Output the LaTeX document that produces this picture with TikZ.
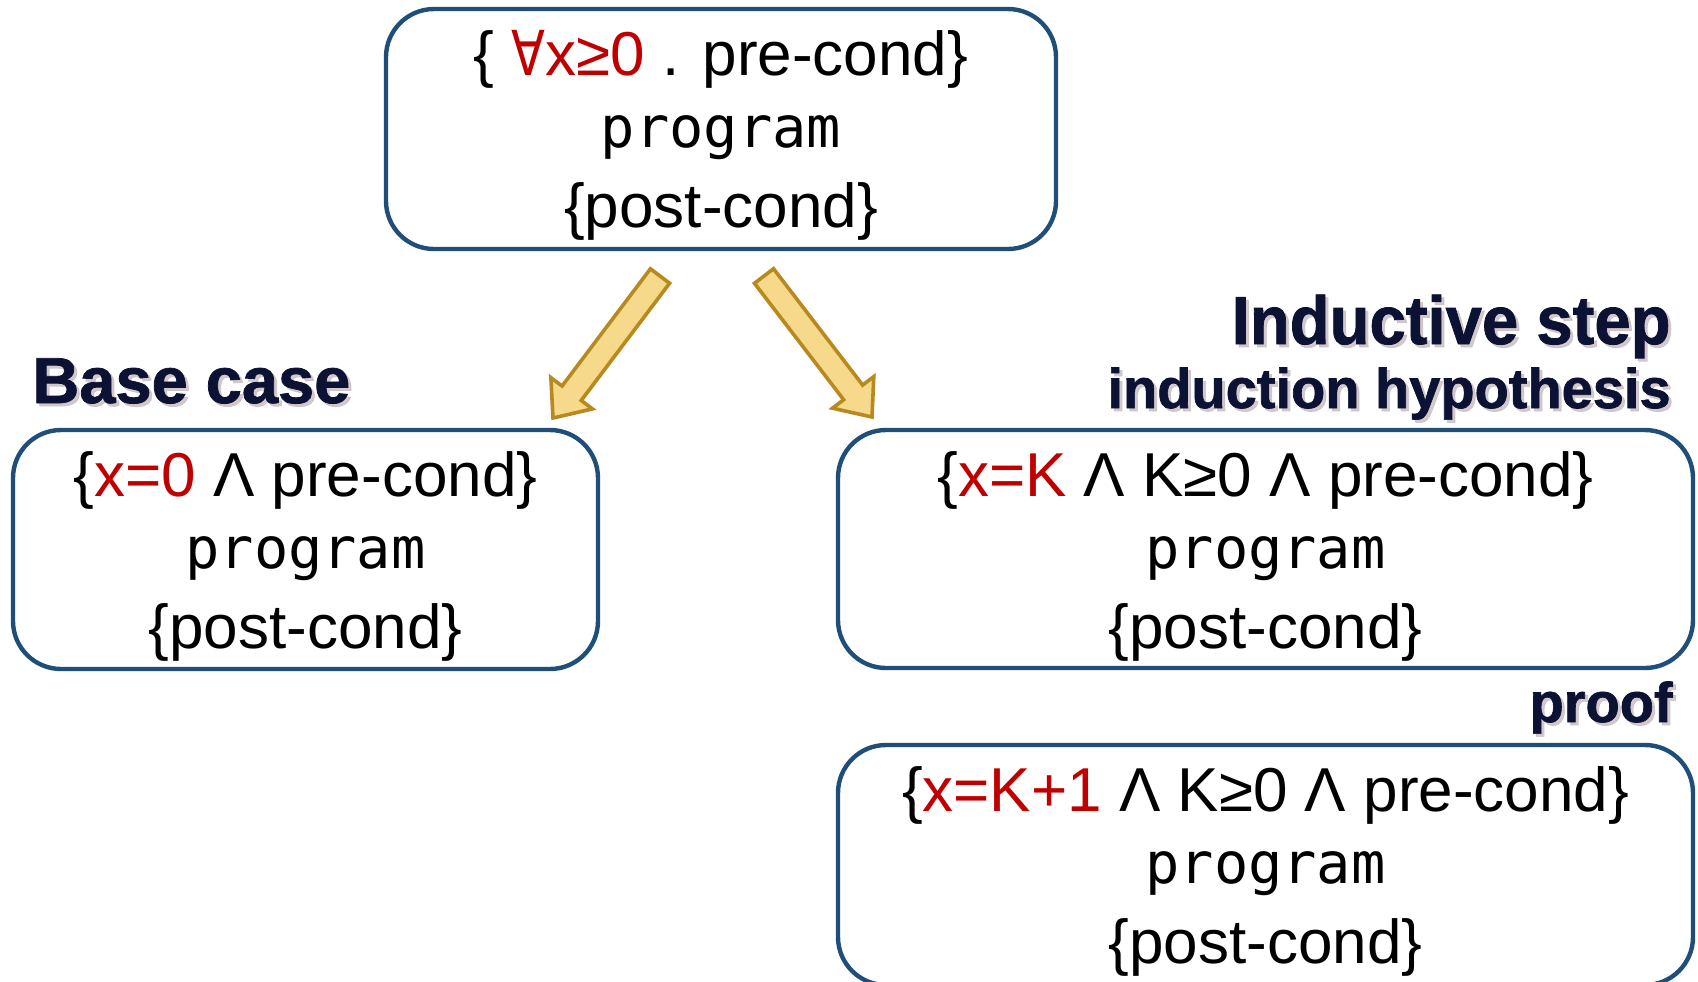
\documentclass[tikz,border=0pt]{standalone}
\usepackage{fontspec}
\setmainfont{Liberation Sans}
\newfontfamily\codefont{DejaVu Sans Mono}
\newfontfamily\opfont{DejaVu Sans}
\newfontfamily\headfont[FakeBold=1.2]{Liberation Sans Bold}
\usetikzlibrary{calc}

\definecolor{boxblue}{RGB}{31,78,121}
\definecolor{condred}{RGB}{192,0,0}
\definecolor{goldfill}{RGB}{246,217,139}
\definecolor{golddraw}{RGB}{184,137,31}
\definecolor{headnavy}{RGB}{12,18,52}
\definecolor{haze}{RGB}{200,188,192}

\newcommand{\forallsym}{{\opfont\scalebox{0.8}[1]{∀}}}
\newcommand{\red}[1]{\textcolor{condred}{#1}}

\begin{document}
\begin{tikzpicture}[x=0.5pt,y=-0.5pt,
  hoare/.style={draw=boxblue, line width=2.2pt, rounded corners=24pt, inner sep=0pt},
  condline/.style={anchor=base, inner sep=0pt, font=\fontsize{31pt}{31pt}\selectfont},
  codeline/.style={anchor=base, inner sep=0pt, font=\codefont\fontsize{28.5pt}{28.5pt}\selectfont},
  heading/.style={inner sep=0pt, text=headnavy, font=\headfont\fontsize{#1}{#1}\selectfont},
  headshadow/.style={inner sep=0pt, text=haze, opacity=0.8, font=\headfont\fontsize{#1}{#1}\selectfont},
  goldarrow/.style={fill=goldfill, draw=golddraw, line width=1.8pt, line join=miter}
]
\useasboundingbox (0,0) rectangle (1698,981);

% the four Hoare triples
\node[hoare, minimum width=335pt, minimum height=120pt] (top) at (721,129) {};
\node[hoare, minimum width=292.5pt, minimum height=119.5pt] (base) at (305.5,549.5) {};
\node[hoare, minimum width=427.5pt, minimum height=119pt] (hyp) at (1265.5,549) {};
\node[hoare, minimum width=427.5pt, minimum height=120pt] (step) at (1265.5,865) {};

% contents of each triple
\node[condline] (top-pre) at ($(top.north)+(0,69)$) {\{ \red{\forallsym x≥0} . pre-cond\}};
\node[codeline] (top-prog) at ($(top.north)+(0,141)$) {program};
\node[condline] (top-post) at ($(top.north)+(0,221)$) {\{post-cond\}};

\node[condline] (base-pre) at ($(base.north)+(0,69)$) {\{\red{x=0} Λ pre-cond\}};
\node[codeline] (base-prog) at ($(base.north)+(0,141)$) {program};
\node[condline] (base-post) at ($(base.north)+(0,221)$) {\{post-cond\}};

\node[condline] (hyp-pre) at ($(hyp.north)+(0,69)$) {\{\red{x=K} Λ K≥0 Λ pre-cond\}};
\node[codeline] (hyp-prog) at ($(hyp.north)+(0,141)$) {program};
\node[condline] (hyp-post) at ($(hyp.north)+(0,221)$) {\{post-cond\}};

\node[condline] (step-pre) at ($(step.north)+(0,69)$) {\{\red{x=K+1} Λ K≥0 Λ pre-cond\}};
\node[codeline] (step-prog) at ($(step.north)+(0,141)$) {program};
\node[condline] (step-post) at ($(step.north)+(0,221)$) {\{post-cond\}};

% headings with a soft drop shadow
\node[headshadow=32.5pt, anchor=base west] (base-lbl-sh) at (35,406) {Base case};
\node[heading=32.5pt, anchor=base west] (base-lbl) at (32,403) {Base case};
\node[headshadow=34pt, anchor=base east] (ind-lbl-sh) at (1674,347) {\scalebox{0.96}[1]{Inductive step}};
\node[heading=34pt, anchor=base east] (ind-lbl) at (1671,344) {\scalebox{0.96}[1]{Inductive step}};
\node[headshadow=28pt, anchor=base east] (hyp-lbl-sh) at (1674,411) {induction hypothesis};
\node[heading=28pt, anchor=base east] (hyp-lbl) at (1671,408) {induction hypothesis};
\node[headshadow=28pt, anchor=base east] (proof-lbl-sh) at (1676,725) {proof};
\node[heading=28pt, anchor=base east] (proof-lbl) at (1673,722) {proof};

% block arrows splitting the goal into the two cases
\coordinate (la) at (660,276);
\coordinate (lb) at (553,418);
\coordinate (ra) at (764,276);
\coordinate (rb) at (872,417);
\foreach \a/\b in {la/lb, ra/rb}{
  \coordinate (h) at ($(\b)!15.5pt!(\a)$);
  \draw[goldarrow]
    ($(\a)!6pt!90:(\b)$) -- ($(h)!6pt!-90:(\a)$) -- ($(h)!13pt!-90:(\a)$) --
    (\b) -- ($(h)!13pt!90:(\a)$) -- ($(h)!6pt!90:(\a)$) --
    ($(\a)!6pt!-90:(\b)$) -- cycle;
}
\end{tikzpicture}
\end{document}
